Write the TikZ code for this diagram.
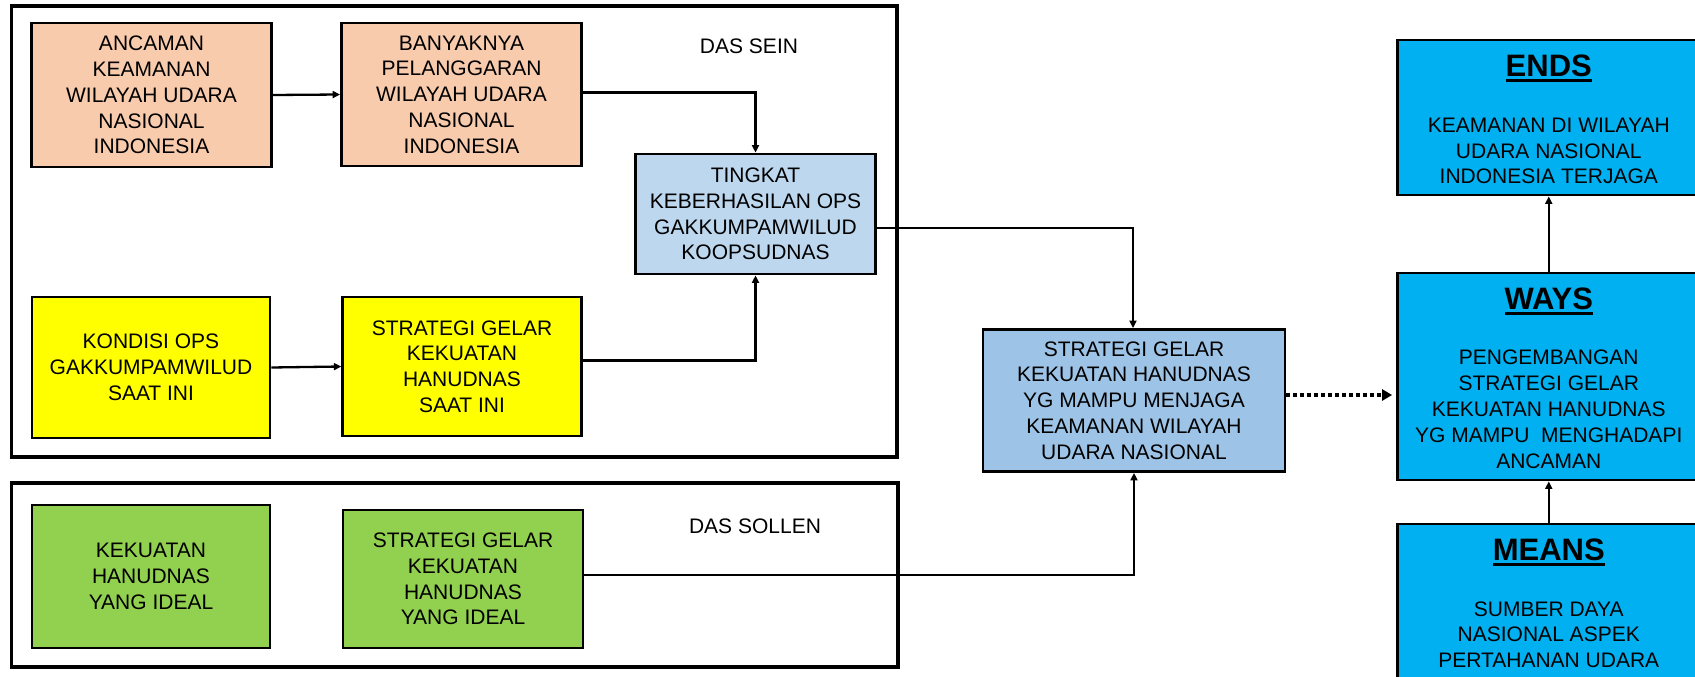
\documentclass[tikz,border=0pt]{standalone}
\usepackage{fontspec}
\setmainfont{Liberation Sans}
\usetikzlibrary{arrows.meta}
\definecolor{peach}{HTML}{F8CBAD}
\definecolor{paleblue}{HTML}{BDD7EE}
\definecolor{midblue}{HTML}{9DC3E6}
\definecolor{hyellow}{HTML}{FFFF00}
\definecolor{hgreen}{HTML}{92D050}
\definecolor{cyanbox}{HTML}{00B0F0}
\newcommand{\hdul}[1]{\vtop{\hbox{#1}\kern2pt\hrule height 3pt}}
\begin{document}
\begin{tikzpicture}[x=1pt,y=-1pt,
  box/.style={draw=black, line width=2.8pt, align=center, inner sep=0pt,
    font=\fontsize{21}{25.8}\selectfont},
  framebox/.style={draw=black, line width=3.8pt, inner sep=0pt},
  txt/.style={align=center, inner sep=0pt, font=\fontsize{21}{25.8}\selectfont},
  head/.style={inner sep=0pt, font=\fontsize{31}{36}\selectfont\bfseries},
  conn/.style={line width=2.3pt, -{Triangle[length=7.5pt,width=7pt]}},
  dotconn/.style={line width=3.5pt, dash pattern=on 3.5pt off 3.5pt, -{Triangle[length=10pt,width=11pt]}}
]
\useasboundingbox (0,0) rectangle (1695,677);
\clip (0,0) rectangle (1695,677);
\fill[white] (0,0) rectangle (1695,677);

% frames
\node[framebox, minimum width=885.5pt, minimum height=451pt] (frameSein) at (454.25,231.5) {};
\node[framebox, minimum width=886.5pt, minimum height=184pt] (frameSollen) at (454.75,575) {};

\node[txt] (sein) at (749,46) {DAS SEIN};
\node[txt] (sollen) at (755,526) {DAS SOLLEN};

% left boxes
\node[box, fill=peach, minimum width=240pt, minimum height=144pt] (anc) at (151.5,95)
  {ANCAMAN\\KEAMANAN\\WILAYAH UDARA\\NASIONAL\\INDONESIA};
\node[box, fill=peach, minimum width=240pt, minimum height=143pt] (ban) at (461.5,94.5)
  {BANYAKNYA\\PELANGGARAN\\WILAYAH UDARA\\NASIONAL\\INDONESIA};
\node[box, fill=paleblue, minimum width=240pt, minimum height=120pt] (ting) at (755.5,214)
  {TINGKAT\\KEBERHASILAN OPS\\GAKKUMPAMWILUD\\KOOPSUDNAS};
\node[box, fill=hyellow, minimum width=238pt, minimum height=141pt] (kon) at (151,367.5)
  {KONDISI OPS\\GAKKUMPAMWILUD\\SAAT INI};
\node[box, fill=hyellow, minimum width=238.5pt, minimum height=139pt] (ssi) at (462,366.5)
  {STRATEGI GELAR\\KEKUATAN\\HANUDNAS\\SAAT INI};
\node[box, fill=hgreen, minimum width=238pt, minimum height=143pt] (kek) at (151,576.5)
  {KEKUATAN\\HANUDNAS\\YANG IDEAL};
\node[box, fill=hgreen, minimum width=240pt, minimum height=138pt] (sid) at (463,579)
  {STRATEGI GELAR\\KEKUATAN\\HANUDNAS\\YANG IDEAL};

% middle box
\node[box, fill=midblue, minimum width=302pt, minimum height=142pt] (mid) at (1134,400.5)
  {STRATEGI GELAR\\KEKUATAN HANUDNAS\\YG MAMPU MENJAGA\\KEAMANAN WILAYAH\\UDARA NASIONAL};

% right boxes
\node[box, fill=cyanbox, minimum width=302.5pt, minimum height=155pt] (ends) at (1548.75,117.5) {};
\node[box, fill=cyanbox, minimum width=302.5pt, minimum height=207pt] (ways) at (1548.75,376.5) {};
\node[box, fill=cyanbox, minimum width=302.5pt, minimum height=176pt] (means) at (1548.75,612) {};

\node[head, anchor=base] (endsH) at (1548.75,77) {\hdul{ENDS}};
\node[txt] (endsT) at (1548.75,151) {KEAMANAN DI WILAYAH\\UDARA NASIONAL\\INDONESIA TERJAGA};
\node[head, anchor=base] (waysH) at (1548.75,309.5) {\hdul{WAYS}};
\node[txt] (waysT) at (1548.75,409.3) {PENGEMBANGAN\\STRATEGI GELAR\\KEKUATAN HANUDNAS\\YG MAMPU\ \ MENGHADAPI\\ANCAMAN};
\node[head, anchor=base] (meansH) at (1548.75,560.5) {\hdul{MEANS}};
\node[txt] (meansT) at (1548.75,634.7) {SUMBER DAYA\\NASIONAL ASPEK\\PERTAHANAN UDARA};

% connectors
\draw[conn] (anc.east) -- (ban.west);
\draw[conn] ([yshift=2pt]ban.east) -| (ting.north);
\draw[conn] (kon.east) -- (ssi.west);
\draw[conn] ([yshift=6pt]ssi.east) -| (ting.south);
\draw[conn] ([yshift=-14pt]ting.east) -| ([xshift=-1pt]mid.north);
\draw[conn] ([yshift=4pt]sid.east) -| (mid.south);
\draw[dotconn] ([yshift=5.5pt]mid.east) -- ([yshift=5.5pt,xshift=-4pt]mid.east -| ways.west);
\draw[conn] (ways.north) -- (ends.south);
\draw[conn] (means.north) -- (ways.south);
\end{tikzpicture}
\end{document}
